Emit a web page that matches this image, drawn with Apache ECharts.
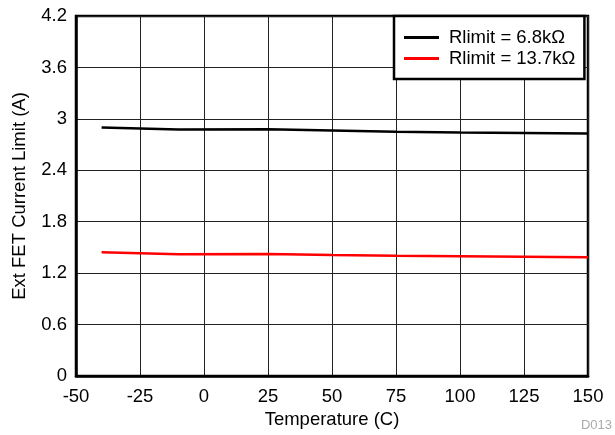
<!DOCTYPE html>
<html><head><meta charset="utf-8">
<script src="https://cdn.jsdelivr.net/npm/echarts@6/dist/echarts.min.js"></script>
<style>html,body{margin:0;padding:0;background:#fff}#c{width:615px;height:435px}</style>
</head><body><div id="c"></div>
<script>
const temps = [-40, -10, 25, 50, 75, 100, 125, 150];
const rlimit68 = [2.90, 2.875, 2.878, 2.865, 2.85, 2.84, 2.835, 2.83];
const rlimit137 = [1.443, 1.42, 1.422, 1.412, 1.403, 1.398, 1.392, 1.385];
const seriesNames = ['Rlimit = 6.8kΩ', 'Rlimit = 13.7kΩ'];
const xTitle = 'Temperature (C)';
const yTitle = 'Ext FET Current Limit (A)';
const font = 'Liberation Sans, Arial, sans-serif';
const fs = 18.5;

const chart = echarts.init(document.getElementById('c'), null, {renderer: 'canvas'});
chart.setOption({
  animation: false,
  backgroundColor: '#fff',
  grid: {left: 76, right: 27, top: 16, bottom: 59, show: true, borderColor: '#000', borderWidth: 2.5},
  xAxis: {
    type: 'value', min: -50, max: 150, interval: 25,
    name: xTitle, nameLocation: 'middle', nameGap: 34,
    nameTextStyle: {fontFamily: font, fontSize: fs, color: '#000'},
    axisLine: {show: true, onZero: false, lineStyle: {color: '#000', width: 2.5}},
    axisTick: {show: false},
    axisLabel: {fontFamily: font, fontSize: fs, color: '#000', margin: 11},
    splitLine: {show: true, lineStyle: {color: '#222', width: 1}}
  },
  yAxis: {
    type: 'value', min: 0, max: 4.2, interval: 0.6,
    name: yTitle, nameLocation: 'middle', nameGap: 47,
    nameTextStyle: {fontFamily: font, fontSize: fs, color: '#000'},
    axisLine: {show: true, onZero: false, lineStyle: {color: '#000', width: 2.5}},
    axisTick: {show: false},
    axisLabel: {fontFamily: font, fontSize: fs, color: '#000', margin: 9,
      formatter: v => String(parseFloat(v.toFixed(2)))},
    splitLine: {show: true, lineStyle: {color: '#222', width: 1}}
  },
  legend: {
    left: 394, top: 16, orient: 'vertical',
    backgroundColor: '#fff', borderColor: '#000', borderWidth: 2.5,
    padding: [12, 9, 11, 10], itemGap: 2,
    itemWidth: 35, itemHeight: 3, icon: 'rect',
    textStyle: {fontFamily: font, fontSize: fs, lineHeight: 19, color: '#000', padding: [0, 0, 0, 5]},
    data: seriesNames
  },
  series: [
    {name: seriesNames[0], type: 'line', data: temps.map((t, i) => [t, rlimit68[i]]),
     showSymbol: false, lineStyle: {color: '#000', width: 2.5}, itemStyle: {color: '#000'}},
    {name: seriesNames[1], type: 'line', data: temps.map((t, i) => [t, rlimit137[i]]),
     showSymbol: false, lineStyle: {color: '#ff0000', width: 2.5}, itemStyle: {color: '#ff0000'}}
  ],
  graphic: [{type: 'text', right: 3, bottom: 3,
    style: {text: 'D013', fontFamily: font, fontSize: 13, fill: '#aaa'}}]
});
</script></body></html>
